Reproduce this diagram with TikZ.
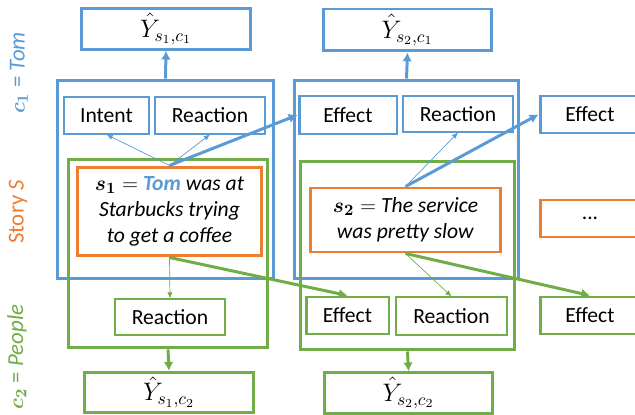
\documentclass[tikz,border=0pt]{standalone}
\usepackage{amsmath,amssymb}
\usepackage{fontspec}
\setmainfont{Carlito}
\usetikzlibrary{arrows.meta}
\definecolor{myblue}{RGB}{91, 155, 213}
\definecolor{myorange}{RGB}{237, 125, 49}
\definecolor{mygreen}{RGB}{112, 173, 71}
\tikzset{
  box/.style = {draw, inner sep = 0pt, fill = white, font = \fontsize{12.3}{14.8}\selectfont},
  thickbox/.style = {box, line width = 1.7pt},
  thinbox/.style = {box, line width = 0.6pt},
  ybox/.style = {thickbox, font = \fontsize{14.5}{17}\selectfont, minimum width = 3.37cm, minimum height = 0.81cm},
  frame/.style = {draw, inner sep = 0pt, line width = 1.7pt},
  thickarrow/.style = {line width = 1.7pt, -{Latex[length=5pt, width=5.5pt]}},
  thinarrow/.style = {line width = 0.4pt, -{Latex[length=3.5pt, width=3pt]}},
  sidelabel/.style = {rotate = 90, font = \fontsize{13}{15}\selectfont}
}

\begin{document}
\begin{tikzpicture}[x = 0.02cm, y = -0.02cm]
\clip (0,0) rectangle (635,415);

\node[frame, draw = myblue, minimum width = 4.34cm, minimum height = 3.98cm] (tom1) at (165.5,179.5) {};
\node[frame, draw = myblue, minimum width = 4.5cm, minimum height = 3.98cm] (tom2) at (406.5,179.5) {};
\node[frame, draw = mygreen, minimum width = 4.0cm, minimum height = 3.78cm] (people1) at (168,253.5) {};
\node[frame, draw = mygreen, minimum width = 4.3cm, minimum height = 3.78cm] (people2) at (407.5,255.5) {};

\node[ybox, draw = myblue] (ys1c1) at (166,29) {$\hat{Y}_{s_1,c_1}$};
\node[ybox, draw = myblue, minimum height = 0.84cm] (ys2c1) at (407.5,30) {$\hat{Y}_{s_2,c_1}$};
\node[ybox, draw = mygreen] (ys1c2) at (169,392.5) {$\hat{Y}_{s_1,c_2}$};
\node[ybox, draw = mygreen] (ys2c2) at (408.5,393) {$\hat{Y}_{s_2,c_2}$};

\node[thickbox, draw = myorange, align = center, minimum width = 3.7cm, minimum height = 1.78cm] (story1) at (169.5,211.5)
  {$\boldsymbol{s_1} =$ \textcolor{myblue}{\textbf{\textit{Tom}}} \textit{was at}\\ \textit{Starbucks trying}\\ \textit{to get a coffee}};
\node[thickbox, draw = myorange, align = center, minimum width = 3.82cm, minimum height = 1.28cm] (story2) at (405.5,220)
  {$\boldsymbol{s_2} =$ \textit{The service}\\ \textit{was pretty slow}};
\node[thickbox, draw = myorange, minimum width = 2cm, minimum height = 0.74cm] (story3) at (590,218.5) {...};

\node[thinbox, draw = myblue, minimum width = 1.7cm, minimum height = 0.74cm] (intent1) at (106.5,115.5) {Intent};
\node[thinbox, draw = myblue, minimum width = 2.2cm, minimum height = 0.74cm] (reacttop1) at (210,115.5) {Reaction};
\node[thickbox, draw = myblue, minimum width = 1.96cm, minimum height = 0.76cm] (efftop2) at (348,115) {Effect};
\node[thinbox, draw = myblue, minimum width = 2.2cm, minimum height = 0.72cm] (reacttop2) at (458,114) {Reaction};
\node[thickbox, draw = myblue, minimum width = 2cm, minimum height = 0.74cm] (efftop3) at (590,114.5) {Effect};

\node[thinbox, draw = mygreen, minimum width = 2.2cm, minimum height = 0.72cm] (reactbot1) at (170,317) {Reaction};
\node[thickbox, draw = mygreen, minimum width = 1.66cm, minimum height = 0.74cm] (effbot2) at (347.5,315.5) {Effect};
\node[thinbox, draw = mygreen, minimum width = 2.22cm, minimum height = 0.76cm] (reactbot2) at (451.5,316) {Reaction};
\node[thickbox, draw = mygreen, minimum width = 2cm, minimum height = 0.74cm] (effbot3) at (590,315.5) {Effect};

\node[sidelabel, text = myblue] (labtom) at (19,73) {$\boldsymbol{c_1}$ = \textit{Tom}};
\node[sidelabel, text = myorange] (labstory) at (18,212) {Story \textit{S}};
\node[sidelabel, text = mygreen] (labpeople) at (17,357) {$\boldsymbol{c_2}$ = \textit{People}};

\draw[thickarrow, myblue] (tom1.north) -- (ys1c1.south);
\draw[thickarrow, myblue] (tom2.north) -- (ys2c1.south);
\draw[thickarrow, mygreen] (people1.south) -- (ys1c2.north);
\draw[thickarrow, mygreen] (people2.south) -- (ys2c2.north);

\draw[thinarrow, myblue] (story1.north) -- (intent1.south);
\draw[thinarrow, myblue] (story1.north) -- (reacttop1.south);
\draw[thickarrow, myblue] (story1.north) -- (efftop2.west);
\draw[thinarrow, myblue] (story2.north) -- (reacttop2.south);
\draw[thickarrow, myblue] (story2.north) -- (efftop3.west);

\draw[thinarrow, mygreen] (story1.south) -- (reactbot1.north);
\draw[thickarrow, mygreen] (story1.south) -- (effbot2.north);
\draw[thinarrow, mygreen] (story2.south) -- (reactbot2.north);
\draw[thickarrow, mygreen] (story2.south) -- (effbot3.north);
\end{tikzpicture}
\end{document}
